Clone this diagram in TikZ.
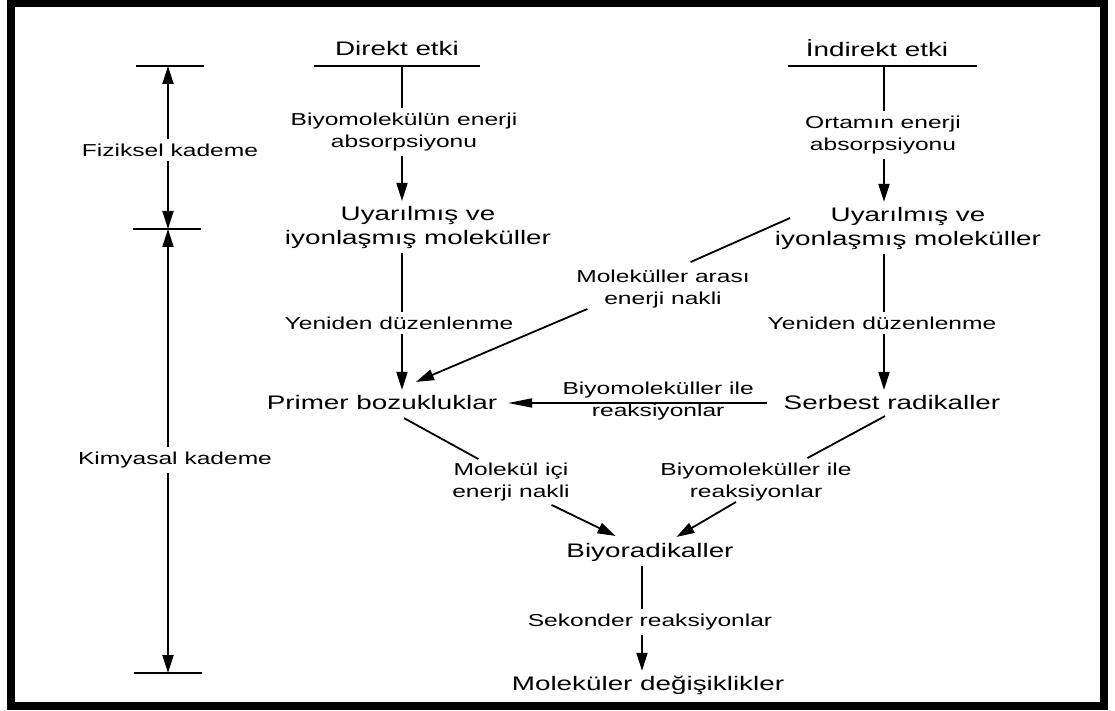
\documentclass[tikz,border=0pt]{standalone}
\usepackage{fontspec}
\setmainfont{Liberation Sans}[FakeStretch=1.42]
\usetikzlibrary{positioning,arrows.meta,calc}

\begin{document}
\begin{tikzpicture}[x=0.5pt, y=-0.5pt, >={Triangle[length=9pt,width=5.5pt]},
  line width=0.9pt,
  big/.style={font=\fontsize{9.8}{12}\selectfont, inner sep=2pt},
  small/.style={font=\fontsize{8.65}{11}\selectfont, inner sep=2pt, align=center},
  hz/.style={-{Triangle[length=12pt,width=4.5pt]}}]
  \useasboundingbox (0,0) rectangle (1115,711);
  \draw[line width=4pt] (11,3) rectangle (1104,706);

  % basliklar
  \node[big] (dir) at (397,48) {Direkt etki};
  \node[big] (ind) at (877,48) {İndirekt etki};
  \coordinate (cL) at (402,66);
  \coordinate (cR) at (884,66);
  \coordinate (cB) at (642,565);
  \draw ($(cL)+(-88,0)$) -- ($(cL)+(78,0)$);
  \draw ($(cR)+(-96,0)$) -- ($(cR)+(93,0)$);

  % sol kolon
  \node[small] (bioabs) at (404,132) {Biyomolekülün enerji\\absorpsiyonu};
  \node[big, align=center] (uyL) at (418,227) {Uyarılmış ve\\iyonlaşmış moleküller};
  \node[small] (yenL) at (399,323) {Yeniden düzenlenme};
  \node[big] (primer) at (382,402) {Primer bozukluklar};

  % sag kolon
  \node[small] (ortabs) at (883,135) {Ortamın enerji\\absorpsiyonu};
  \node[big, align=center] (uyR) at (908,228) {Uyarılmış ve\\iyonlaşmış moleküller};
  \node[small] (yenR) at (882,323) {Yeniden düzenlenme};
  \node[big] (serbest) at (892,402) {Serbest radikaller};

  % orta
  \node[small] (arasi) at (663,289) {Moleküller arası\\enerji nakli};
  \node[small] (icL) at (511,482) {Molekül içi\\enerji nakli};
  \node[small] (reakD) at (756,482) {Biyomoleküller ile\\reaksiyonlar};
  \node[big] (biyorad) at (650,552) {Biyoradikaller};
  \node[small] (sekonder) at (650,622) {Sekonder reaksiyonlar};
  \node[big] (degis) at (648,685) {Moleküler değişiklikler};

  % kademeler
  \node[small] (fiz) at (170,150) {Fiziksel kademe};
  \node[small] (kim) at (175,460) {Kimyasal kademe};
  \coordinate (sT) at (168,66);
  \coordinate (sM) at (168,229);
  \coordinate (sB) at (168,673);
  \draw ($(sT)+(-32,0)$) -- ($(sT)+(36,0)$);
  \draw ($(sM)+(-35,0)$) -- ($(sM)+(33,0)$);
  \draw ($(sB)+(-34,0)$) -- ($(sB)+(34,0)$);
  \draw[->] (fiz.north -| sT) -- (sT);
  \draw[->] (fiz.south -| sT) -- (sM);
  \draw[->] (kim.north -| sT) -- (sM);
  \draw[->] (kim.south -| sT) -- (sB);

  % dikey baglantilar
  \draw (cL) -- (bioabs.north -| cL);
  \draw[->] (bioabs.south -| cL) -- (uyL.north -| cL);
  \draw (uyL.south -| cL) -- (yenL.north -| cL);
  \draw[->] (yenL.south -| cL) -- (primer.north -| cL);
  \draw (cR) -- (ortabs.north -| cR);
  \draw[->] (ortabs.south -| cR) -- (uyR.north -| cR);
  \draw (uyR.south -| cR) -- (yenR.north -| cR);
  \draw[->] (yenR.south -| cR) -- (serbest.north -| cR);
  \draw (biyorad.south -| cB) -- (sekonder.north -| cB);
  \draw[->] (sekonder.south -| cB) -- (degis.north -| cB);

  % capraz baglantilar
  \draw ($(uyR.west)+(20,-10)$) -- ($(arasi.north east)+(-64,-3)$);
  \draw[->] ($(arasi.south west)+(16,-4)$) -- ($(primer.north)+(34,-8)$);
  \draw[hz] ($(serbest.west)+(-12,1)$) -- ($(primer.east)+(6,1)$)
    node[small, pos=0.42, yshift=1pt] (reakH) {Biyomoleküller ile\\reaksiyonlar};
  \draw ($(primer.south)+(22,4)$) -- ($(icL.north west)+(31,1)$);
  \draw[->] ($(icL.south east)+(-23,-1)$) -- ($(biyorad.north west)+(54,-2)$);
  \draw ($(serbest.south)+(-7,2)$) -- ($(reakD.north east)+(-49,0)$);
  \draw[->] ($(reakD.south)+(-20,-4)$) -- ($(biyorad.north east)+(-62,-1)$);
\end{tikzpicture}
\end{document}
